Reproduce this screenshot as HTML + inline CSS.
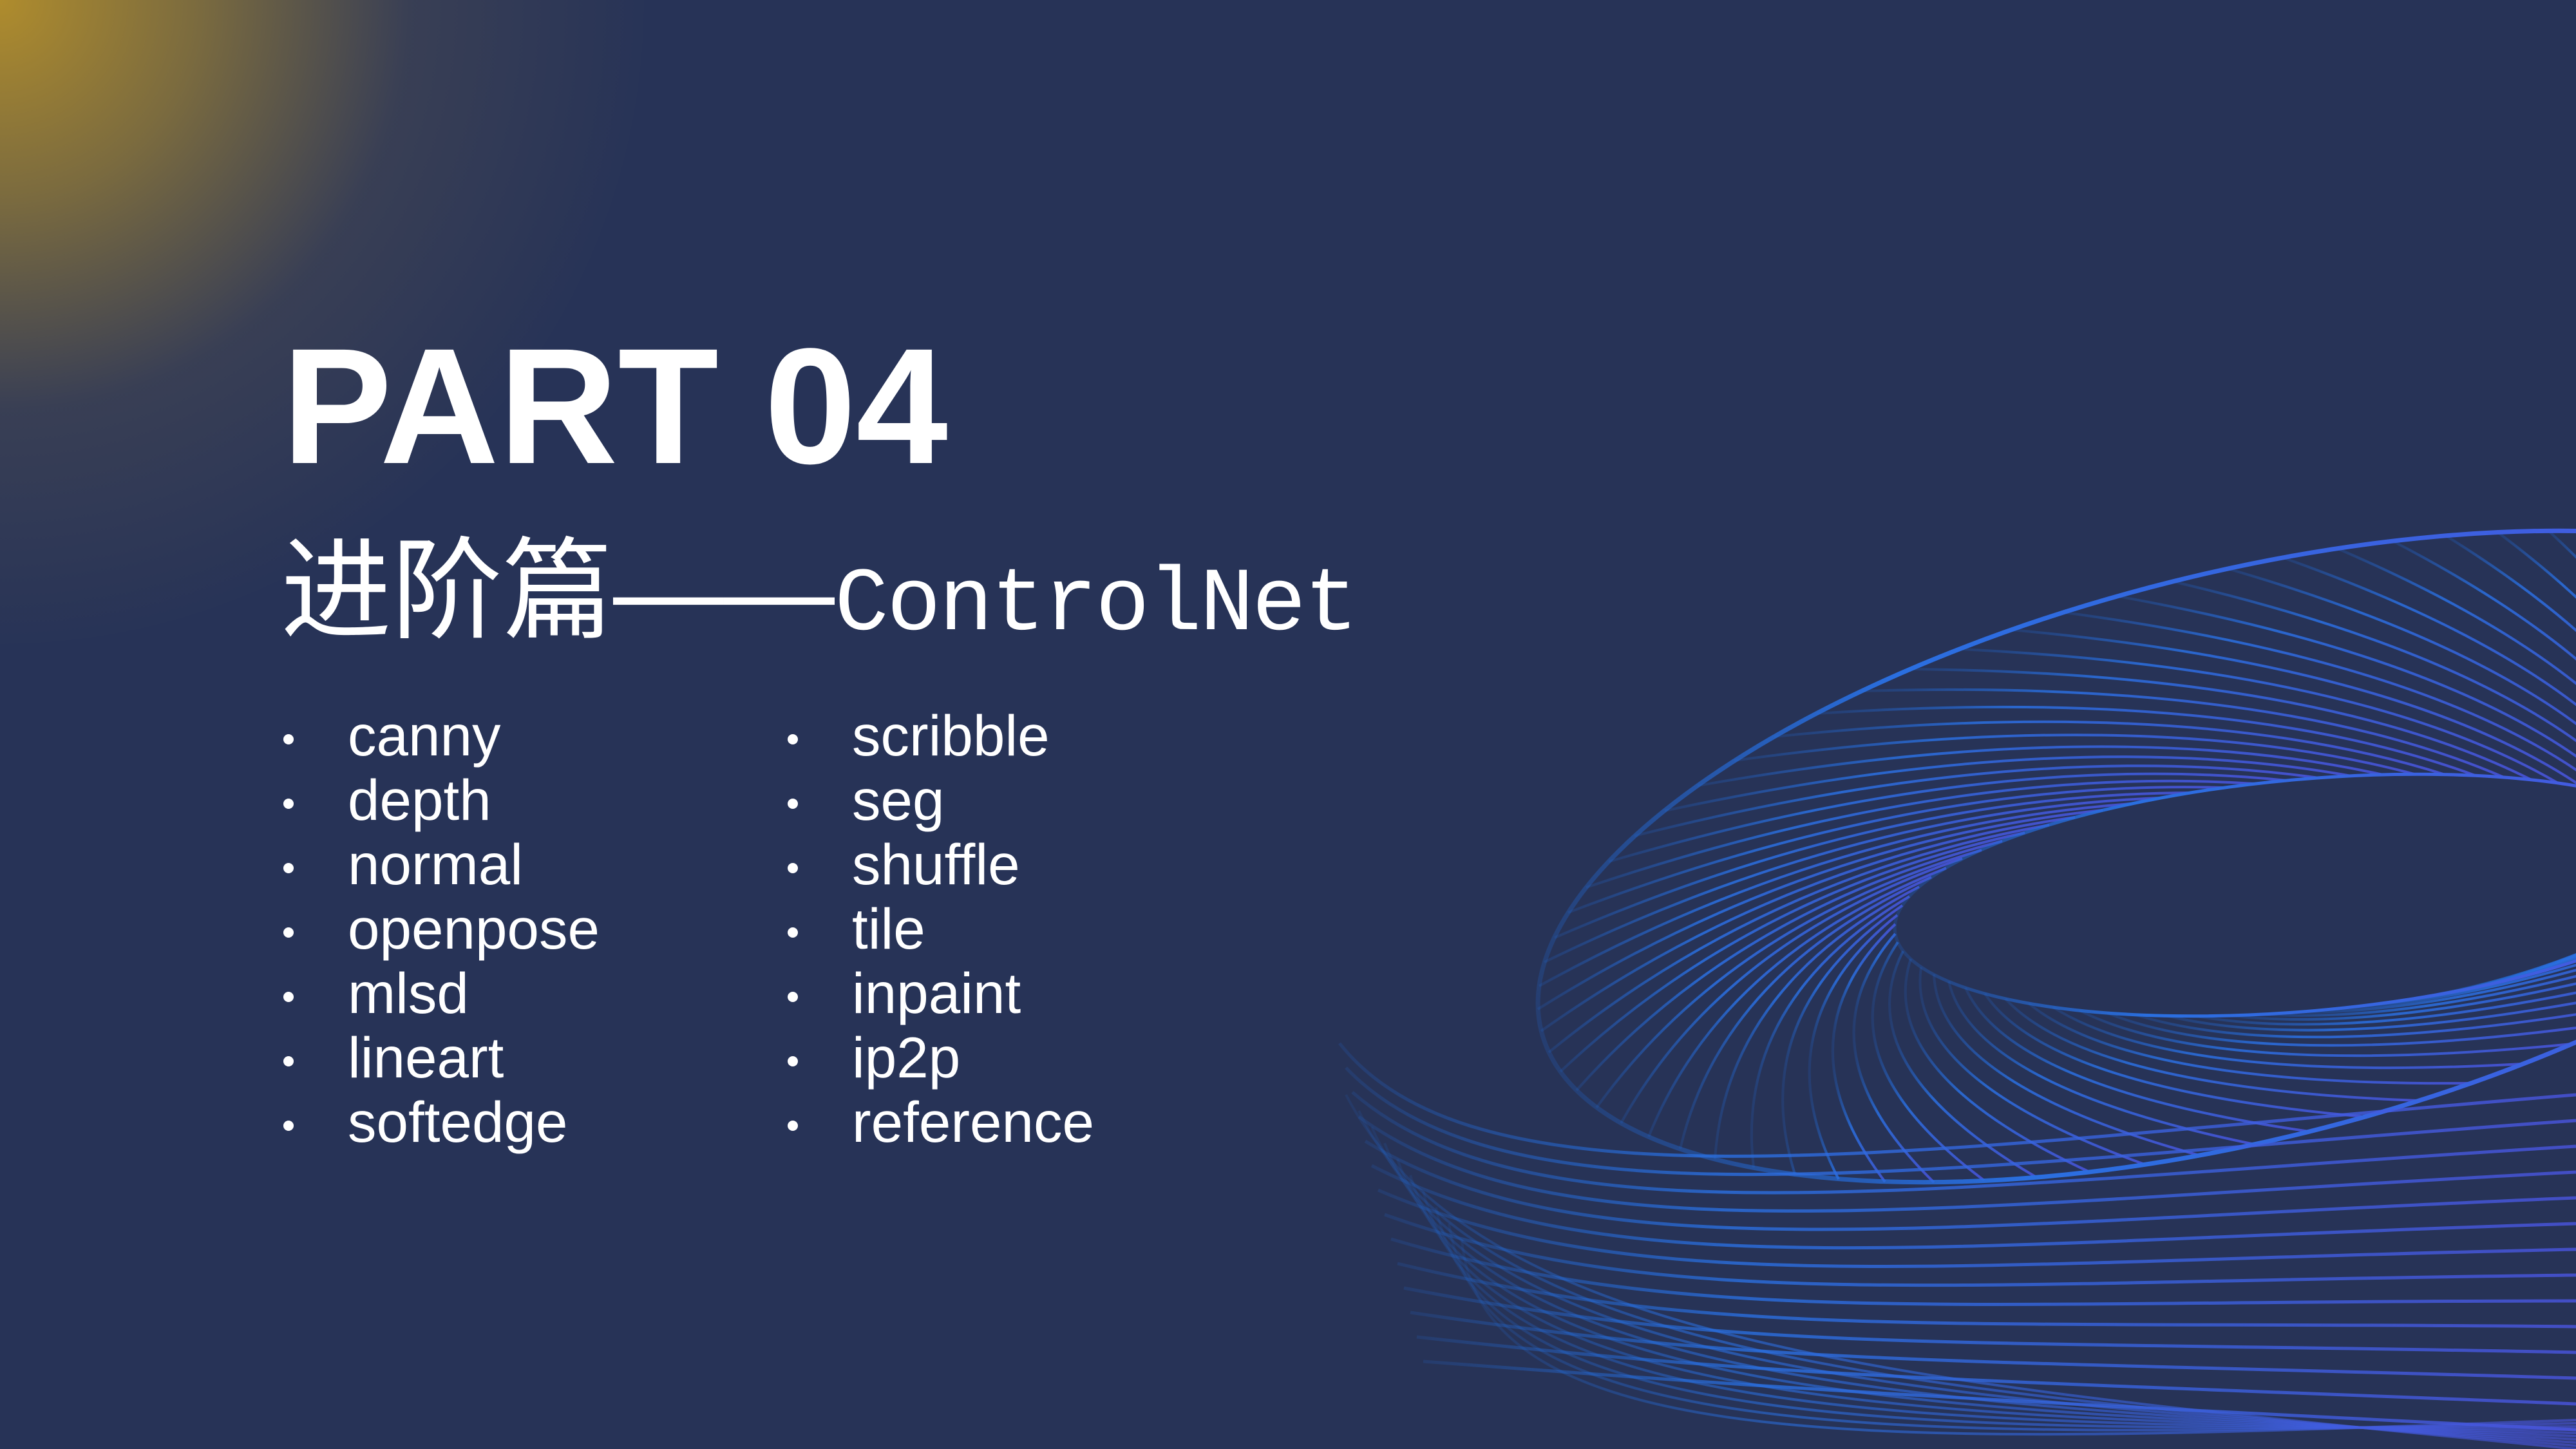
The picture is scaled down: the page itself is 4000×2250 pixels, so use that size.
<!DOCTYPE html>
<html><head><meta charset="utf-8"><style>
html,body{margin:0;padding:0;overflow:hidden;width:4000px;height:2250px}
body{position:relative;background:#273357;font-family:"Liberation Sans","Noto Sans CJK SC",sans-serif;color:#fff}
.glow{position:absolute;left:-1000px;top:-1000px;width:2000px;height:2000px;border-radius:50%;background:radial-gradient(circle,rgba(175,140,45,1) 0%,rgba(150,125,55,0.75) 22%,rgba(90,85,80,0.35) 45%,rgba(39,51,87,0) 72%)}
.t1{position:absolute;left:438px;top:503px;font-size:256px;font-weight:bold;line-height:1}
.t2{position:absolute;left:436px;top:832px;font-size:172px;line-height:1;white-space:nowrap}
.t2 .m{font-family:"Liberation Mono",monospace;font-size:140px;letter-spacing:-3px}
.col{position:absolute;top:1092px;font-family:"Liberation Sans","DejaVu Sans",sans-serif;font-size:89px;line-height:100px}
.col div{position:relative;padding-left:100px}
.col div:before{content:"";position:absolute;left:0;top:48px;width:16px;height:16px;border-radius:50%;background:#fff}
</style></head><body>
<div class="glow"></div>
<svg id="s" style="position:absolute;left:0;top:0" width="4000" height="2250">
<defs><linearGradient id="g" x1="0" x2="1"><stop offset="0" stop-color="#1f6ad8" stop-opacity="0.2"/><stop offset="0.3" stop-color="#2a6fe0"/><stop offset="1" stop-color="#4a55e0"/></linearGradient></defs>
<g id="grp" fill="none" stroke="url(#g)" stroke-width="5"></g>
</svg>
<script>
(function(){
var g=document.getElementById('grp'),h='';
function pt(cx,cy,rx,ry,rot,t){var r=rot*Math.PI/180,x=rx*Math.cos(t),y=ry*Math.sin(t);return [cx+x*Math.cos(r)-y*Math.sin(r),cy+x*Math.sin(r)+y*Math.cos(r)];}
for(var i=0;i<80;i++){var t=i/80*2*Math.PI;
 var a=pt(3480,1330,1120,440,-14,t),b=pt(3580,1390,640,180,-5,t+1.0),m=pt(3520,1360,860,300,-10,t+0.55);
 h+='<path d="M'+a[0].toFixed(0)+' '+a[1].toFixed(0)+' Q'+m[0].toFixed(0)+' '+m[1].toFixed(0)+' '+b[0].toFixed(0)+' '+b[1].toFixed(0)+'" stroke-width="4" opacity="0.85"/>';}
h+='<ellipse cx="3480" cy="1330" rx="1120" ry="440" transform="rotate(-14 3480 1330)" stroke-width="7"/>';
h+='<ellipse cx="3580" cy="1390" rx="640" ry="180" transform="rotate(-5 3580 1390)" stroke-width="5"/>';
for(var j=0;j<14;j++){var y0=1620+j*28,x0=2080+j*10;
 h+='<path d="M'+x0+' '+(y0+j*10)+' C'+(2300+j*40)+' '+(1900+j*20)+' 3000 '+(1780+j*30)+' 4000 '+(1700+j*40)+'" stroke-width="5" opacity="0.8"/>';}
for(var k=0;k<10;k++){
 h+='<path d="M'+(2090+k*20)+' '+(1700+k*25)+' C2300 '+(2100+k*20)+' 3000 '+(2150+k*10)+' 4000 '+(2250-k*5)+'" stroke-width="4" opacity="0.6"/>';}
g.innerHTML=h;
})();
</script>
<div class="t1">PART 04</div>
<div class="t2">进阶篇——<span class="m">ControlNet</span></div>
<div class="col" style="left:440px"><div>canny</div><div>depth</div><div>normal</div><div>openpose</div><div>mlsd</div><div>lineart</div><div>softedge</div></div>
<div class="col" style="left:1223px"><div>scribble</div><div>seg</div><div>shuffle</div><div>tile</div><div>inpaint</div><div>ip2p</div><div>reference</div></div>
</body></html>
